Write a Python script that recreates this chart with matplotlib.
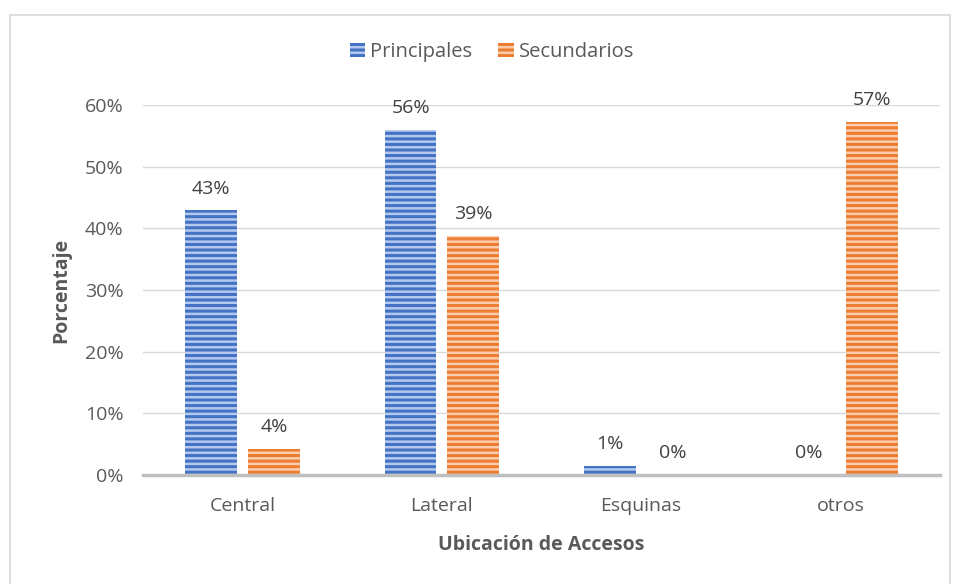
import matplotlib
matplotlib.use("Agg")
import matplotlib.pyplot as plt
import numpy as np
from matplotlib.patches import Rectangle

categories = ["Central", "Lateral", "Esquinas", "otros"]
principales = [42.9, 55.9, 1.4, 0.0]
secundarios = [4.2, 38.7, 0.0, 57.3]
principales_labels = ["43%", "56%", "1%", "0%"]
secundarios_labels = ["4%", "39%", "0%", "57%"]
yticks = [0, 10, 20, 30, 40, 50, 60]
series_names = ["Principales", "Secundarios"]

plt.rcParams['font.family'] = ['Open Sans', 'DejaVu Sans']
plt.rcParams['hatch.linewidth'] = 1.8

W, H = 956, 584
fig = plt.figure(figsize=(W / 100, H / 100), dpi=100)
ax = fig.add_axes([143 / W, 1 - 475 / H, (940 - 143) / W, (475 - 105) / H])

# outer frame
fig.add_artist(Rectangle((10 / W, -0.1), (950 - 10) / W, 1.1 - 15 / H,
                         transform=fig.transFigure, fill=False,
                         edgecolor="#D9D9D9", linewidth=1.2))

x = np.arange(len(categories))
w = 0.26
off = 0.157
blue, blue_h = "#4472C4", "#B4C9EE"
orange, orange_h = "#ED7D31", "#F9CDAD"

b1 = ax.bar(x - off, principales, w, color=blue, edgecolor=blue_h,
            hatch="---", linewidth=0, label=series_names[0], zorder=3)
b2 = ax.bar(x + off, secundarios, w, color=orange, edgecolor=orange_h,
            hatch="---", linewidth=0, label=series_names[1], zorder=3)

fs = 14
tc = "#404040"
for xi, v, lab in zip(x - off, principales, principales_labels):
    ax.text(xi, v + 2.1, lab, ha="center", va="bottom", fontsize=fs, color=tc)
for xi, v, lab in zip(x + off, secundarios, secundarios_labels):
    ax.text(xi, v + 2.1, lab, ha="center", va="bottom", fontsize=fs, color=tc)

ax.set_xlim(-0.5, 3.5)
ax.set_ylim(0, 60)
ax.set_yticks(yticks)
ax.set_yticklabels([f"{t}%" for t in yticks], fontsize=fs, color="#595959")
ax.set_xticks(x)
ax.set_xticklabels(categories, fontsize=fs, color="#595959")
ax.tick_params(axis="both", length=0)
ax.tick_params(axis="y", pad=14)
ax.tick_params(axis="x", pad=16)
ax.grid(axis="y", color="#D9D9D9", linewidth=1, zorder=0)
ax.set_axisbelow(True)
for s in ["left", "right", "top"]:
    ax.spines[s].set_visible(False)
ax.spines["bottom"].set_color("#BFBFBF")
ax.spines["bottom"].set_linewidth(2.5)
ax.spines["bottom"].set_zorder(4)

ax.set_xlabel("Ubicación de Accesos", fontsize=fs, fontweight="bold",
              color="#595959", labelpad=14)
ax.set_ylabel("Porcentaje", fontsize=fs, fontweight="bold",
              color="#595959", labelpad=10)

leg = fig.legend(handles=[b1, b2], labels=series_names, loc="center",
                 bbox_to_anchor=(492 / W, 1 - 52 / H), ncol=2, frameon=False,
                 fontsize=14.5, handlelength=0.75, handleheight=0.75,
                 handletextpad=0.25, columnspacing=1.3)
for t in leg.get_texts():
    t.set_color("#595959")

fig.savefig("out.png", dpi=100)
